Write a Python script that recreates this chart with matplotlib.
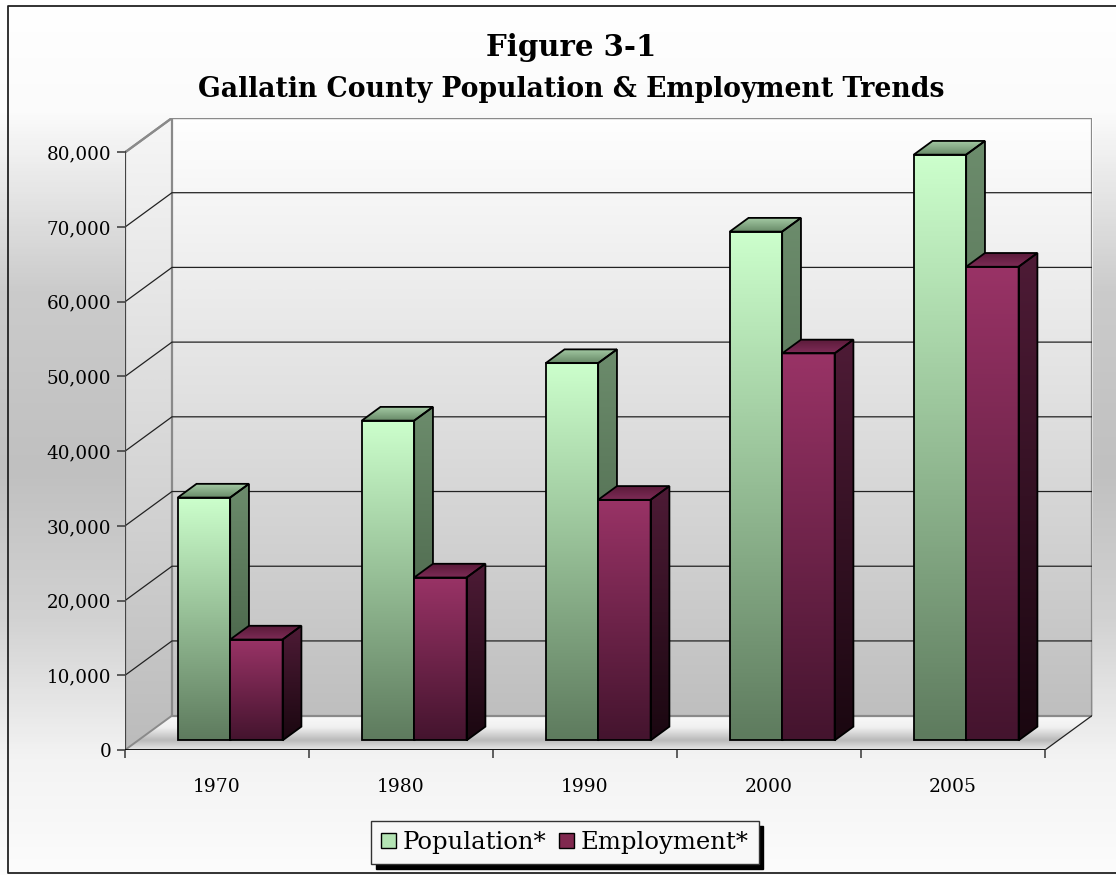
import numpy as np
import matplotlib.pyplot as plt
from matplotlib.patches import Polygon, Rectangle
from matplotlib.colors import LinearSegmentedColormap
from matplotlib.lines import Line2D

plt.rcParams['font.family'] = ['DejaVu Serif']

years = ["1970", "1980", "1990", "2000", "2005"]
population = [32500, 42800, 50500, 68100, 78400]
employment = [13500, 21800, 32200, 51800, 63400]
series_names = ["Population*", "Employment*"]

W, H = 1116, 875
fig = plt.figure(figsize=(W / 100, H / 100), dpi=100)

# figure background (gray band in the middle)
bg = fig.add_axes([0, 0, 1, 1], zorder=-10)
bg_cmap = LinearSegmentedColormap.from_list('bg', [
    (0, '#ffffff'), (110 / H, '#fbfbfb'), (290 / H, '#cbcbcb'),
    (470 / H, '#c0c0c0'), (620 / H, '#d2d2d2'), (760 / H, '#f3f3f3'), (1, '#fcfcfc')])
bg.imshow(np.linspace(0, 1, 400).reshape(-1, 1), cmap=bg_cmap, aspect='auto',
          extent=(0, 1, 0, 1))
bg.set_xlim(0, 1)
bg.set_ylim(0, 1)
bg.axis('off')

# 3d-ish plot area
ax = fig.add_axes([125 / W, (H - 750) / H, (1092 - 125) / W, (750 - 118) / H])
ax.patch.set_alpha(0)
for s in ax.spines.values():
    s.set_visible(False)

DX, DY = 0.2554, 4600      # depth of the box
F0, FD = 0.28, 0.40        # bar front position and bar depth (fraction of DX/DY)
BW = 0.285


def grad(patch, c_top, c_bot, x0, x1, y0, y1, z, stops=None):
    if stops is None:
        cmap = LinearSegmentedColormap.from_list('g', [c_top, c_bot])
    else:
        cmap = LinearSegmentedColormap.from_list('g', stops)
    im = ax.imshow(np.linspace(0, 1, 128).reshape(-1, 1), cmap=cmap,
                   extent=(x0, x1, y0, y1), aspect='auto', zorder=z,
                   interpolation='bilinear')
    im.set_clip_path(patch)


# walls and floor
back = Rectangle((-0.5 + DX, DY), 5, 80000, fc='none', ec='#8a8a8a', lw=1.6, zorder=2)
ax.add_patch(back)
grad(back, '#fefefe', '#bfbfbf', -0.5 + DX, 4.5 + DX, DY, 80000 + DY, 1)

side = Polygon([(-0.5, 0), (-0.5 + DX, DY), (-0.5 + DX, 80000 + DY), (-0.5, 80000)],
               closed=True, fc='none', ec='none', zorder=2)
ax.add_patch(side)
grad(side, '#f6f6f6', '#bcbcbc', -0.5, -0.5 + DX, 0, 80000 + DY, 1)

floor = Polygon([(-0.5, 0), (4.5, 0), (4.5 + DX, DY), (-0.5 + DX, DY)],
                closed=True, fc='none', ec='none', zorder=2)
ax.add_patch(floor)
grad(floor, None, None, -0.5, 4.5 + DX, 0, DY, 1,
     stops=[(0, '#fafafa'), (0.35, '#f0f0f0'), (0.72, '#bababa'), (1, '#e8e8e8')])

# gridlines
for v in range(10000, 80001, 10000):
    col = '#8a8a8a' if v == 80000 else '#222222'
    lw = 1.6 if v == 80000 else 0.9
    ax.plot([-0.5, -0.5 + DX, 4.5 + DX], [v, v + DY, v + DY], color=col, lw=lw, zorder=3)
ax.plot([-0.5, -0.5 + DX], [0, DY], color='#8a8a8a', lw=1.4, zorder=3)
ax.plot([-0.5, -0.5 + DX], [80000, 80000 + DY], color='#8a8a8a', lw=1.6, zorder=3)

# front axis lines
ax.plot([-0.5, -0.5], [-300, 80000], color='#444444', lw=1.6, zorder=5)
ax.plot([-0.5, 4.5], [0, 0], color='black', lw=1.3, zorder=5)
ax.plot([4.5, 4.5 + DX], [0, DY], color='#222222', lw=0.9, zorder=5)

# bars
styles = [
    dict(front=('#ccffcc', '#5e7b5e'), side=('#6c8c6c', '#3c553c'), top=('#a3c9a3', '#668866')),
    dict(front=('#993366', '#44142e'), side=('#4e1b36', '#1a0710'), top=('#5a1a3a', '#7e2c56')),
]
yb = F0 * DY
for k, vals in enumerate([population, employment]):
    st = styles[k]
    z = 10 + 10 * k
    xl = np.arange(len(years)) + (k - 1) * BW + F0 * DX
    bars = ax.bar(xl, vals, width=BW, bottom=yb, align='edge', fc='none',
                  ec='black', lw=1.3, zorder=z + 2)
    for rect, x0, v in zip(bars, xl, vals):
        x1 = x0 + BW
        yt = yb + v
        grad(rect, st['front'][0], st['front'][1], x0, x1, yb, yt, z + 1)
        sp = Polygon([(x1, yb), (x1 + FD * DX, yb + FD * DY),
                      (x1 + FD * DX, yt + FD * DY), (x1, yt)],
                     closed=True, fc='none', ec='black', lw=1.3, zorder=z + 2)
        ax.add_patch(sp)
        grad(sp, st['side'][0], st['side'][1], x1, x1 + FD * DX, yb, yt + FD * DY, z + 1)
        tp = Polygon([(x0, yt), (x1, yt), (x1 + FD * DX, yt + FD * DY),
                      (x0 + FD * DX, yt + FD * DY)],
                     closed=True, fc='none', ec='black', lw=1.3, zorder=z + 2)
        ax.add_patch(tp)
        grad(tp, st['top'][0], st['top'][1], x0, x1 + FD * DX, yt, yt + FD * DY, z + 1)

# ticks
yt_vals = list(range(0, 80001, 10000))
ax.set_yticks(yt_vals, [f"{v:,}" for v in yt_vals])
ax.tick_params(axis='y', length=6, width=1.2, color='#444444', pad=4, labelsize=13.2)
ax.set_xticks(range(len(years)), years)
ax.set_xticks(np.arange(-0.5, len(years), 1), minor=True)
ax.tick_params(axis='x', which='major', length=0, pad=20, labelsize=13.5)
ax.tick_params(axis='x', which='minor', length=6, width=1.2, color='#444444')

ax.set_xlim(-0.5, 4.5 + DX)
ax.set_ylim(0, 80000 + DY)

# titles
fig.text(571 / W, 1 - 56 / H, "Figure 3-1", ha='center', va='baseline',
         fontsize=21, fontweight='bold')
fig.text(571 / W, 1 - 97 / H, "Gallatin County Population & Employment Trends",
         ha='center', va='baseline', fontsize=19.2, fontweight='bold')

# legend
handles = [Rectangle((0, 0), 1, 1, fc='#b4e4b4', ec='black'),
           Rectangle((0, 0), 1, 1, fc='#80284f', ec='black')]
leg = fig.legend(handles, series_names, loc='center',
                 bbox_to_anchor=(565 / W, 1 - 842.5 / H), ncol=2, frameon=True,
                 fancybox=False, shadow={'ox': 3.5, 'oy': -3.5, 'color': 'black', 'alpha': 1},
                 edgecolor='#333333', facecolor='#f8f8f8', framealpha=1, fontsize=17.5,
                 handlelength=0.6, handleheight=0.6, handletextpad=0.3,
                 columnspacing=0.5, borderpad=0.4, borderaxespad=0)
leg.get_frame().set_linewidth(1)

# outer border
fig.add_artist(Line2D([1.0, 8 / W, 8 / W, 1.0], [1 - 6 / H, 1 - 6 / H, 2 / H, 2 / H],
                      color='#222222', lw=1.3, transform=fig.transFigure))

fig.savefig("out.png", dpi=100)
